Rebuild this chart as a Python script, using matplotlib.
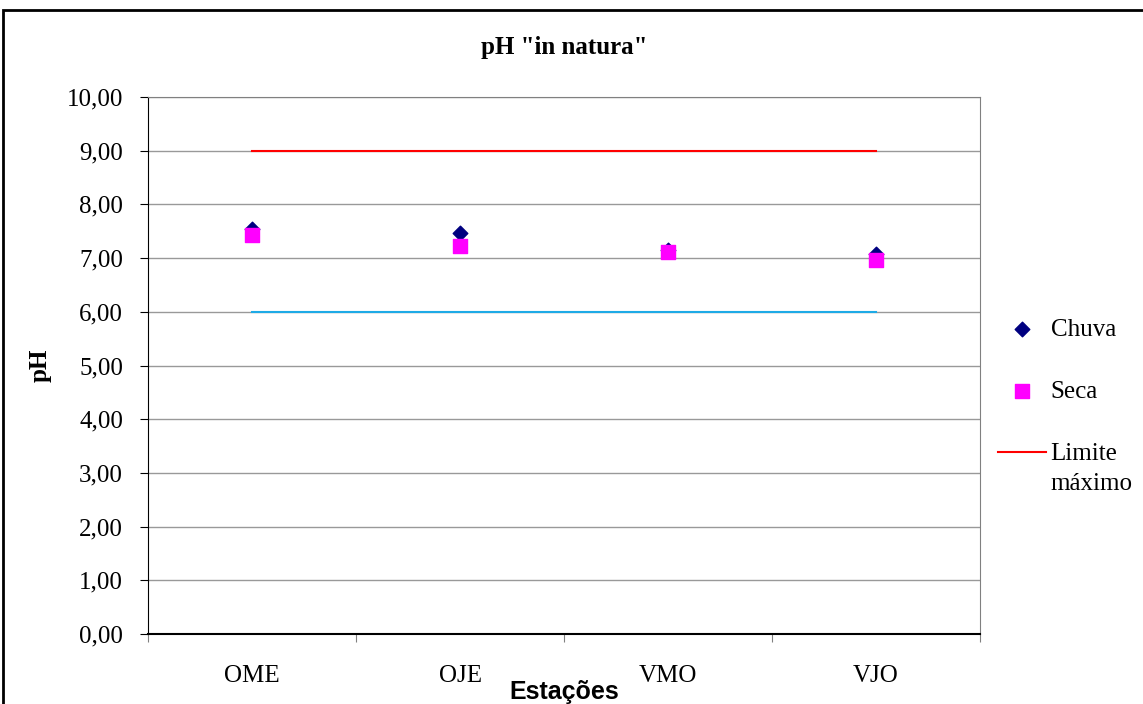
import numpy as np
import matplotlib.pyplot as plt
from matplotlib.patches import Rectangle
from matplotlib.legend_handler import HandlerLine2D

estacoes = ["OME", "OJE", "VMO", "VJO"]
chuva = [7.55, 7.47, 7.15, 7.08]
seca = [7.43, 7.22, 7.11, 6.96]
lim_max = [9.0, 9.0, 9.0, 9.0]
lim_min = [6.0, 6.0, 6.0, 6.0]

serif = "Liberation Serif"
sans = "Liberation Sans"
fs = 18


class TopLine(HandlerLine2D):
    # put the legend line at the level of the first text line
    def create_artists(self, legend, orig_handle, xdescent, ydescent,
                       width, height, fontsize, trans):
        arts = super().create_artists(legend, orig_handle, xdescent, ydescent,
                                      width, height, fontsize, trans)
        for a in arts:
            a.set_ydata(np.asarray(a.get_ydata()) + fontsize * 0.65)
        return arts


fig = plt.figure(figsize=(11.43, 7.04), dpi=100)
ax = fig.add_axes([148/1143, 1-634/704, (980-148)/1143, (634-97)/704])

x = np.arange(len(estacoes))
lmax, = ax.plot(x, lim_max, color="red", lw=1.5, label="Limite\nmáximo", zorder=2)
ax.plot(x, lim_min, color="#1EAAE6", lw=1.5, zorder=2)
ax.scatter(x, chuva, marker="D", s=55, color="#000080", label="Chuva", zorder=3)
ax.scatter(x, seca, marker="s", s=90, color="#FF00FF", label="Seca", zorder=4)

ax.set_xlim(-0.5, 3.5)
ax.set_ylim(0, 10)
ax.set_yticks(np.arange(0, 11, 1))
ax.set_yticklabels([f"{v:.2f}".replace(".", ",") for v in np.arange(0, 11, 1)],
                   fontfamily=serif, fontsize=fs)
ax.set_xticks(np.arange(-0.5, 4, 1))
ax.set_xticklabels([])
ax.set_xticks(x, minor=True)
ax.set_xticklabels(estacoes, minor=True, fontfamily=serif, fontsize=fs)
ax.tick_params(axis="x", which="minor", length=0, pad=22)
ax.tick_params(axis="x", which="major", length=6, direction="out", color="gray")
ax.tick_params(axis="y", length=6, direction="out", pad=12)
ax.yaxis.grid(True, color="#999999", lw=1)
ax.set_axisbelow(True)
for s in ["top", "right"]:
    ax.spines[s].set_color("#808080")
ax.spines["left"].set_color("black")
ax.spines["bottom"].set_color("black")
ax.spines["bottom"].set_linewidth(1.5)

ax.set_title('pH "in natura"', fontfamily=serif, fontweight="bold", fontsize=fs, pad=31)
ax.set_xlabel("Estações", fontfamily=sans, fontweight="bold", fontsize=fs)
ax.xaxis.set_label_coords(0.5, -(680-634)/537)
ax.set_ylabel("pH", fontfamily=serif, fontweight="bold", fontsize=fs, labelpad=11)

h, l = ax.get_legend_handles_labels()
order = [1, 2, 0]
leg = fig.legend([h[i] for i in order], [l[i] for i in order],
                 loc="upper left", bbox_to_anchor=(998/1143, 1-318/704),
                 frameon=False, prop={"family": serif, "size": fs},
                 borderpad=0, borderaxespad=0,
                 labelspacing=1.6, handlelength=1.9, handletextpad=0.2,
                 handler_map={lmax: TopLine()})
for t in leg.get_texts():
    t.set_linespacing(1.45)

fig.add_artist(Rectangle((3/1143, -0.05), 1.2, 1-10/704+0.05, transform=fig.transFigure,
                         fill=False, ec="black", lw=2))

fig.savefig("out.png", dpi=100)
